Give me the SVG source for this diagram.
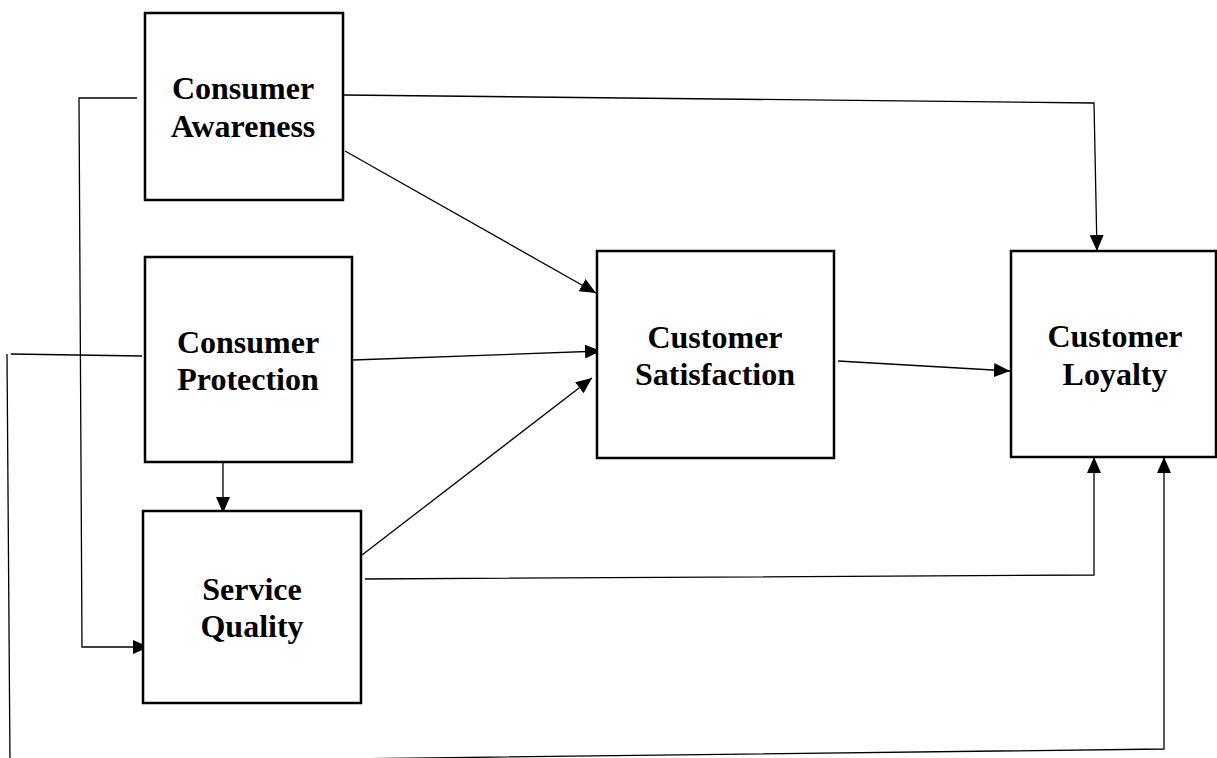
<svg xmlns="http://www.w3.org/2000/svg" width="1217" height="758" viewBox="0 0 1217 758">
<style>
.box{fill:#fff;stroke:#000;stroke-width:2.5}
.lbl{font-family:"Liberation Serif","Times New Roman",serif;font-weight:bold;font-size:32px;fill:#000;text-anchor:middle}
.c{fill:none;stroke:#000;stroke-width:1.3}
</style>
<defs>
<marker id="ah" markerUnits="userSpaceOnUse" markerWidth="17" markerHeight="16" viewBox="0 0 17 16" refX="16" refY="8" orient="auto">
<path d="M0,1 L16,8 L0,15 z" fill="#000"/>
</marker>
</defs>
<g id="connectors">
<polyline class="c" points="344,95 1094,103 1097,251" marker-end="url(#ah)"/>
<line class="c" x1="345" y1="151" x2="596" y2="293" marker-end="url(#ah)"/>
<line class="c" x1="353" y1="360" x2="601" y2="351" marker-end="url(#ah)"/>
<line class="c" x1="362" y1="555" x2="592" y2="378" marker-end="url(#ah)"/>
<line class="c" x1="838" y1="361" x2="1010" y2="371" marker-end="url(#ah)"/>
<line class="c" x1="223" y1="463" x2="223" y2="513" marker-end="url(#ah)"/>
<polyline class="c" points="137,98 79,98 82,647 149,647" marker-end="url(#ah)"/>
<polyline class="c" points="365,579 1094,575 1094,457" marker-end="url(#ah)"/>
<polyline class="c" points="142,356 11,354"/>
<polyline class="c" points="7,354 10,763 1164,749 1164,457" marker-end="url(#ah)"/>
</g>
<g id="consumer-awareness">
<rect class="box" x="145" y="13" width="198" height="187"/>
<text class="lbl" x="243" y="99">Consumer</text>
<text class="lbl" x="243" y="137">Awareness</text>
</g>
<g id="consumer-protection">
<rect class="box" x="145" y="257" width="207" height="205"/>
<text class="lbl" x="248" y="353">Consumer</text>
<text class="lbl" x="248" y="390">Protection</text>
</g>
<g id="service-quality">
<rect class="box" x="143" y="511" width="218" height="192"/>
<text class="lbl" x="252" y="600">Service</text>
<text class="lbl" x="252" y="637">Quality</text>
</g>
<g id="customer-satisfaction">
<rect class="box" x="597" y="251" width="237" height="207"/>
<text class="lbl" x="715" y="348">Customer</text>
<text class="lbl" x="715" y="385">Satisfaction</text>
</g>
<g id="customer-loyalty">
<rect class="box" x="1011" y="251" width="205" height="206"/>
<text class="lbl" x="1115" y="347">Customer</text>
<text class="lbl" x="1115" y="385">Loyalty</text>
</g>
</svg>
